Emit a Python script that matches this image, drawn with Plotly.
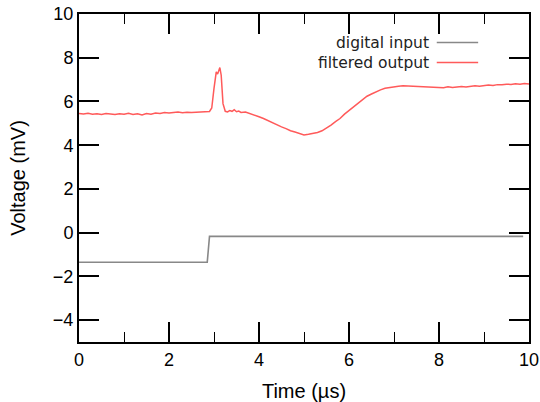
import plotly.graph_objects as go

# digital input (step)
input_x = [-0.13, 2.85, 2.9, 9.87]
input_y = [-1.35, -1.35, -0.17, -0.17]

# filtered output
out_x = [0.0, 0.1, 0.2, 0.3, 0.4, 0.5, 0.6, 0.7, 0.8, 0.9,
         1.0, 1.1, 1.2, 1.3, 1.4, 1.5, 1.6, 1.7, 1.8, 1.9,
         2.0, 2.1, 2.2, 2.3, 2.4, 2.5, 2.6, 2.7, 2.8, 2.9,
         2.95, 3.0, 3.05, 3.08, 3.1, 3.13, 3.16, 3.2, 3.25, 3.3,
         3.35, 3.4, 3.45, 3.5, 3.55, 3.6, 3.7, 3.8, 3.9,
         4.0, 4.1, 4.2, 4.3, 4.4, 4.5, 4.6, 4.7, 4.8, 4.9,
         5.0, 5.1, 5.2, 5.3, 5.4, 5.5, 5.6, 5.7, 5.8, 5.9,
         6.0, 6.1, 6.2, 6.3, 6.4, 6.5, 6.6, 6.7, 6.8, 6.9,
         7.0, 7.1, 7.2, 7.3, 7.4, 7.5, 7.6, 7.7, 7.8, 7.9,
         8.0, 8.1, 8.2, 8.3, 8.4, 8.5, 8.6, 8.7, 8.8, 8.9,
         9.0, 9.1, 9.2, 9.3, 9.4, 9.5, 9.6, 9.7, 9.8, 9.9, 10.0]
out_y = [5.45, 5.43, 5.46, 5.42, 5.44, 5.41, 5.45, 5.43, 5.40, 5.44,
         5.42, 5.46, 5.41, 5.44, 5.38, 5.45, 5.42, 5.47, 5.45, 5.49,
         5.47, 5.50, 5.52, 5.48, 5.51, 5.50, 5.52, 5.51, 5.53, 5.54,
         5.70, 6.60, 7.35, 7.25, 7.35, 7.55, 7.20, 5.90, 5.55, 5.52,
         5.58, 5.55, 5.62, 5.53, 5.56, 5.50, 5.52, 5.45, 5.40,
         5.30, 5.22, 5.12, 5.04, 4.95, 4.84, 4.76, 4.66, 4.60, 4.52,
         4.47, 4.50, 4.53, 4.58, 4.66, 4.78, 4.92, 5.08, 5.22, 5.42,
         5.58, 5.74, 5.93, 6.08, 6.24, 6.34, 6.44, 6.53, 6.60, 6.64,
         6.68, 6.70, 6.72, 6.71, 6.73, 6.70, 6.71, 6.68, 6.69, 6.66,
         6.65, 6.63, 6.67, 6.64, 6.66, 6.68, 6.66, 6.69, 6.72, 6.70,
         6.74, 6.75, 6.73, 6.77, 6.76, 6.79, 6.78, 6.81, 6.79, 6.82, 6.80]

series_names = ["digital input", "filtered output"]
series_colors = ["#888888", "#ff5a5a"]

fig = go.Figure()
fig.add_trace(go.Scatter(x=input_x, y=input_y, mode="lines", name=series_names[0],
                         line=dict(color=series_colors[0], width=1.6), showlegend=False))
fig.add_trace(go.Scatter(x=out_x, y=out_y, mode="lines", name=series_names[1],
                         line=dict(color=series_colors[1], width=1.5), showlegend=False))

# gnuplot-style legend: text on the left, sample line on the right
leg_y = [0.913, 0.852]
for name, col, yy in zip(series_names, series_colors, leg_y):
    fig.add_annotation(xref="paper", yref="paper", x=0.782, y=yy, text=name,
                       showarrow=False, xanchor="right", yanchor="middle",
                       font=dict(family="DejaVu Sans", size=15.5, color="#222222"))
    fig.add_shape(type="line", xref="paper", yref="paper", x0=0.795, x1=0.887,
                  y0=yy, y1=yy, line=dict(color=col, width=1.6))

axis_common = dict(showline=True, linecolor="black", linewidth=2, mirror="ticks",
                   ticks="inside", tickcolor="black", tickwidth=1.5, ticklen=20,
                   showgrid=False, zeroline=False, automargin=False,
                   tickfont=dict(family="Liberation Sans", size=18, color="black"),
                   title_font=dict(family="Liberation Sans", size=20, color="black"))

fig.update_xaxes(range=[0, 10], dtick=2, tick0=0,
                 minor=dict(dtick=1, ticks="inside", ticklen=10, tickcolor="black", tickwidth=1.2),
                 title_text="Time (µs)", title_standoff=18, **axis_common)
fig.update_yaxes(range=[-5, 10], dtick=2, tick0=0,
                 title_text="Voltage (mV)", title_standoff=22, **axis_common)

fig.update_layout(width=540, height=402, margin=dict(l=79, r=11, t=14, b=60),
                  plot_bgcolor="white", paper_bgcolor="white")

fig.write_html("out.html")
